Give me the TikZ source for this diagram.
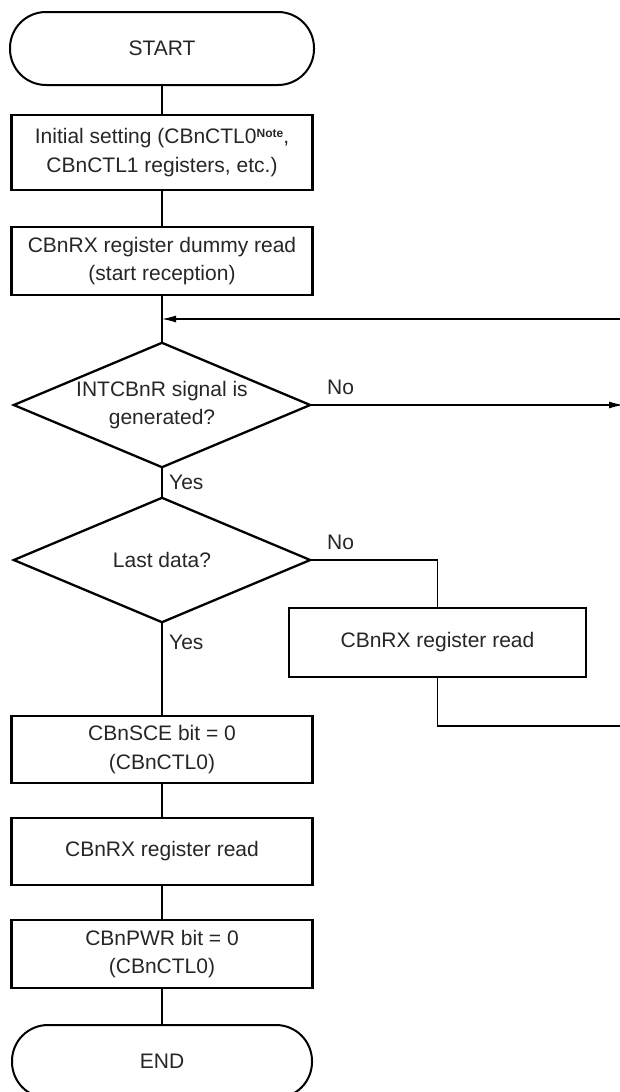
\documentclass[tikz,border=0pt]{standalone}
\usepackage{fontspec}
\setmainfont{Liberation Sans}
\usetikzlibrary{arrows.meta}
\begin{document}
\begin{tikzpicture}[x=1pt,y=-1pt,
  txt/.style={font=\fontsize{21}{28.5}\selectfont, text=black!85},
  box/.style={txt, draw, line width=2.3pt, minimum width=301pt, align=center, inner sep=0pt},
  term/.style={txt, draw, line width=2pt, rounded corners=36pt, minimum width=304pt, minimum height=73pt, inner sep=0pt},
  dec/.style={txt, minimum width=296pt, minimum height=124pt, inner sep=0pt, align=center},
  decline/.style={line width=2.3pt, line join=miter},
  conn/.style={line width=1.1pt},
  arr/.style={conn, -{Latex[length=14pt,width=7pt]}},
  lbl/.style={txt, anchor=west, inner sep=0pt}
]
\useasboundingbox (0,0) rectangle (619,1092);

\node[term] (start) at (162,48.5) {START};
\node[box, minimum height=75pt] (init) at (162,152.5) {Initial setting (CBnCTL0\raisebox{6.5pt}{\fontsize{12}{12}\selectfont\bfseries Note},\\CBnCTL1 registers, etc.)};
\node[box, minimum height=68pt] (dummy) at (162,261) {CBnRX register dummy read\\(start reception)};
\node[dec] (d1) at (162,405) {INTCBnR signal is\\generated?};
\node[dec] (d2) at (162,560) {Last data?};
\node[box, minimum width=297pt, minimum height=69pt] (rd) at (437.5,642.5) {CBnRX register read};
\node[box, minimum height=67pt] (sce) at (162,749.5) {CBnSCE bit = 0\\(CBnCTL0)};
\node[box, minimum height=67pt] (rx) at (162,851.5) {CBnRX register read};
\node[box, minimum height=68pt] (pwr) at (162,954) {CBnPWR bit = 0\\(CBnCTL0)};
\node[term, minimum width=300pt] (end) at (162,1061.5) {END};

\draw[decline] (d1.north) -- (d1.east) -- (d1.south) -- (d1.west) -- cycle;
\draw[decline] (d2.north) -- (d2.east) -- (d2.south) -- (d2.west) -- cycle;

\coordinate (r1) at (622,319);
\coordinate (r2) at (623,405);
\coordinate (r3) at (622,726);

\draw[conn] (start) -- (init);
\draw[conn] (init) -- (dummy);
\draw[conn] (dummy) -- (d1.north);
\draw[arr] (r1) -- (r1 -| d1.north);
\draw[arr] (d1.east) -- (r2);
\draw[conn] (d1.south) -- (d2.north);
\draw[conn] (d2.east) -| (rd.north);
\draw[conn] (rd.south) |- (r3);
\draw[conn] (d2.south) -- (sce);
\draw[conn] (sce) -- (rx);
\draw[conn] (rx) -- (pwr);
\draw[conn] (pwr) -- (end);

\node[lbl] (no1) at (327,387) {No};
\node[lbl] (yes1) at (169,482) {Yes};
\node[lbl] (no2) at (327,542) {No};
\node[lbl] (yes2) at (169,642) {Yes};
\end{tikzpicture}
\end{document}
